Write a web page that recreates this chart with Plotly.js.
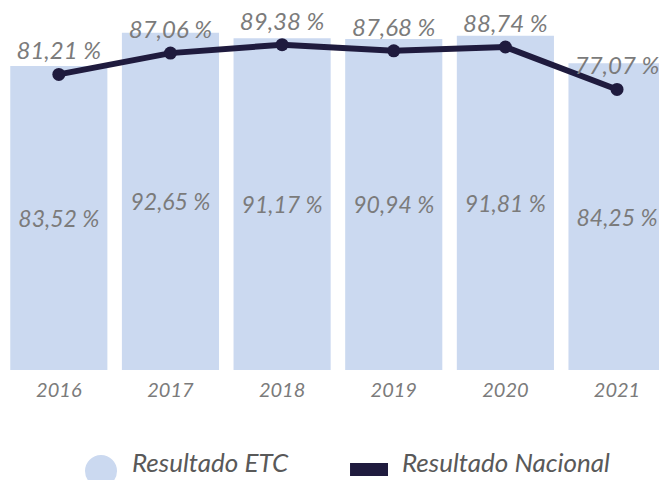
<!DOCTYPE html>
<html><head><meta charset="utf-8">
<script src="https://cdn.plot.ly/plotly-3.0.1.min.js"></script>
<style>html,body{margin:0;padding:0;background:#fff;overflow:hidden}</style>
</head><body><div id="chart" style="width:659px;height:480px"></div>
<script>
const years = ["2016","2017","2018","2019","2020","2021"];
const etc = [83.52, 92.65, 91.17, 90.94, 91.81, 84.25];
const nacional = [81.21, 87.06, 89.38, 87.68, 88.74, 77.07];
const seriesNames = ["Resultado ETC", "Resultado Nacional"];

const FONT = "Lato, 'Open Sans', sans-serif";
const TXT = "#7b7b7b";
const LEG = "#595959";
const BAR = "#cbd9f0";
const LINE = "#1f1b3e";

const traces = [
  {type:"bar", x:years, y:etc, name:seriesNames[0], showlegend:false,
   marker:{color:BAR}, texttemplate:"<i>%{y:.2f} %</i>", textposition:"inside",
   insidetextanchor:"middle", textangle:0, constraintext:"none",
   textfont:{family:FONT, size:23, color:TXT}, hoverinfo:"skip"},
  {type:"scatter", mode:"lines+markers+text", x:years, y:nacional, name:seriesNames[1],
   showlegend:false,
   line:{color:LINE, width:6}, marker:{color:LINE, size:13},
   texttemplate:"<i>%{y:.2f} %</i>", textposition:"top center", cliponaxis:false,
   textfont:{family:FONT, size:24, color:TXT}, hoverinfo:"skip"}
];

// manual legend (paper coordinates of the plot area: x 3..659 px, y 0..370 px)
const shapes = [
  {type:"circle", xref:"paper", yref:"paper", x0:0.125, x1:0.1738, y0:-0.2297, y1:-0.3162,
   fillcolor:BAR, line:{width:0}},
  {type:"rect", xref:"paper", yref:"paper", x0:0.529, x1:0.5869, y0:-0.2514, y1:-0.2865,
   fillcolor:LINE, line:{width:0}}
];
const annotations = [
  {xref:"paper", yref:"paper", x:0.1936, y:-0.2486, xanchor:"left", yanchor:"middle",
   text:"<i>"+seriesNames[0]+"</i>", showarrow:false, font:{family:FONT, size:26, color:LEG}},
  {xref:"paper", yref:"paper", x:0.6052, y:-0.2486, xanchor:"left", yanchor:"middle",
   text:"<i>"+seriesNames[1]+"</i>", showarrow:false, font:{family:FONT, size:26, color:LEG}}
];

const layout = {
  width:659, height:480, separators:", ",
  margin:{l:3, r:0, t:0, b:110, autoexpand:false},
  paper_bgcolor:"#fff", plot_bgcolor:"#fff",
  bargap:0.13,
  font:{family:FONT, color:TXT},
  xaxis:{type:"category", range:[-0.5, 5.376], showgrid:false, zeroline:false, showline:false,
         ticks:"", ticklabelstandoff:6, tickfont:{family:FONT, size:20, color:TXT},
         tickprefix:"<i>", ticksuffix:"</i>"},
  yaxis:{range:[0, 101.65], visible:false, showgrid:false, zeroline:false},
  showlegend:false,
  shapes:shapes, annotations:annotations
};

Plotly.newPlot("chart", traces, layout, {displayModeBar:false, staticPlot:true});
</script></body></html>
